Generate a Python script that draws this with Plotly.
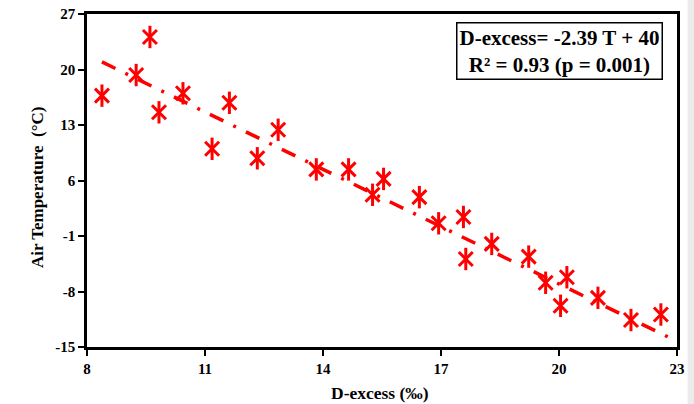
import plotly.graph_objects as go

# D-excess (‰) and air temperature (°C) for each sample
d_excess = [8.38, 9.60, 9.25, 9.83, 10.44, 11.18, 11.62, 12.33, 12.86, 13.83,
            14.65, 15.26, 15.54, 16.45, 16.94, 17.57, 17.63, 18.29, 19.23,
            19.66, 20.04, 20.20, 20.99, 21.83, 22.59]
air_temp = [16.7, 24.1, 19.3, 14.6, 17.0, 10.0, 15.8, 8.8, 12.4, 7.4,
            7.4, 4.2, 6.2, 3.9, 0.6, 1.4, -3.9, -2.0, -3.6,
            -6.9, -9.8, -6.2, -8.8, -11.6, -10.9]

# fitted trend (temperature against D-excess)
trend_slope = -2.41
trend_intercept = 41.15
trend_range = [8.38, 22.8]

x_ticks = [8, 11, 14, 17, 20, 23]
y_ticks = [-15, -8, -1, 6, 13, 20, 27]

x_title = "D-excess (‰)"
y_title = "Air Temperature  (°C)"
eq_line1 = "D-excess= -2.39 T + 40"
eq_line2 = "R² = 0.93 (p = 0.001)"

RED = "#FF0000"
SERIF = "Liberation Serif, Times New Roman, serif"

trend_y = [trend_slope * x + trend_intercept for x in trend_range]

fig = go.Figure()

fig.add_trace(go.Scatter(
    x=trend_range, y=trend_y, mode="lines",
    line=dict(color=RED, width=3.5, dash="15px,11px,3px,11px"),
    hoverinfo="skip", showlegend=False,
))

# six-spoke asterisk markers: an X plus a vertical bar
fig.add_trace(go.Scatter(
    x=d_excess, y=air_temp, mode="markers",
    marker=dict(symbol="x-thin-open", size=14, color=RED,
                line=dict(color=RED, width=3)),
    showlegend=False,
))
fig.add_trace(go.Scatter(
    x=d_excess, y=air_temp, mode="markers",
    marker=dict(symbol="line-ns-open", size=16, color=RED,
                line=dict(color=RED, width=3)),
    showlegend=False, hoverinfo="skip",
))

fig.add_annotation(
    xref="paper", yref="paper", x=0.80, y=0.976,
    xanchor="center", yanchor="top",
    text=f"<b>{eq_line1}</b><br><b>{eq_line2}</b>",
    showarrow=False, align="center",
    font=dict(family=SERIF, size=21, color="black"),
    bordercolor="black", borderwidth=1.5, borderpad=2,
    bgcolor="white",
)

# axis titles placed in page pixels below / left of the plot frame
fig.add_annotation(
    xref="paper", yref="paper", x=(380 - 87) / 590, y=-(393 - 347) / 333,
    xanchor="center", yanchor="middle", showarrow=False,
    text=f"<b>{x_title}</b>",
    font=dict(family=SERIF, size=17.5, color="black"),
)
fig.add_annotation(
    xref="paper", yref="paper", x=-(87 - 38) / 590, y=(347 - 187) / 333,
    xanchor="center", yanchor="middle", showarrow=False, textangle=-90,
    text=f"<b>{y_title}</b>",
    font=dict(family=SERIF, size=17, color="black"),
)

# light strip along the right edge of the page
fig.add_shape(type="rect", xref="paper", yref="paper",
              x0=1.018, x1=1.04, y0=-0.2, y1=1.05,
              fillcolor="#EBEBEB", line=dict(width=0), layer="below")

axis_common = dict(
    showgrid=False, zeroline=False, showline=True, linecolor="black",
    linewidth=2.5, mirror=True, ticks="outside", ticklen=6, tickwidth=2,
    tickcolor="black", automargin=False,
    tickfont=dict(family=SERIF, size=15, color="black", weight="bold"),
)

fig.update_xaxes(
    range=[8, 23], tickvals=x_ticks, ticktext=[str(v) for v in x_ticks],
    **axis_common,
)
fig.update_yaxes(
    range=[-15, 27], tickvals=y_ticks, ticktext=[str(v) for v in y_ticks],
    **axis_common,
)

fig.update_layout(
    width=694, height=404,
    margin=dict(l=87, r=17, t=14, b=57),
    paper_bgcolor="white", plot_bgcolor="white",
)

fig.write_html("out.html")
